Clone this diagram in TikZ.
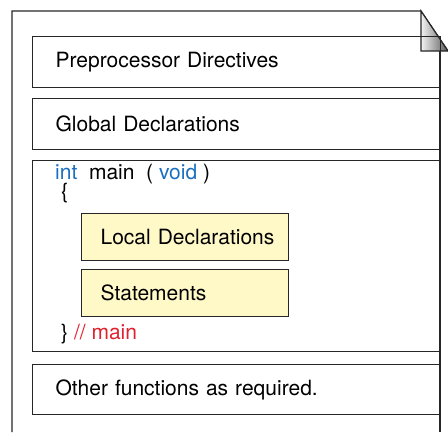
\documentclass[tikz,border=0pt]{standalone}
\usepackage{fontspec}
\setmainfont{TeX Gyre Heros}
\usepackage{xcolor}
\usetikzlibrary{positioning}
\definecolor{kwblue}{HTML}{1A6FC0}
\definecolor{cmtred}{HTML}{E0212E}
\definecolor{localfill}{HTML}{FFF9C8}
\definecolor{lineclr}{HTML}{262626}

\begin{document}
\begin{tikzpicture}[x=1pt, y=-1pt,
  part/.style={draw=lineclr, line width=1.2pt, anchor=north west,
               minimum width=408pt, minimum height=51pt,
               inner xsep=23pt, text width=362pt, align=left,
               font=\fontsize{21}{25}\selectfont},
  local/.style={draw=lineclr, line width=1.2pt, fill=localfill, anchor=north west,
                minimum width=207pt, minimum height=47pt,
                inner xsep=19pt, text width=169pt, align=left,
                font=\fontsize{21}{25}\selectfont},
  code/.style={anchor=west, inner sep=0pt, font=\fontsize{21}{25}\selectfont},
  pageline/.style={draw=lineclr, line width=1.2pt}
]
  \useasboundingbox (0,0) rectangle (448,432);

  % the page with its folded corner
  \draw[pageline] (12,432) -- (12,11) -- (421,11) -- (448,51);
  \draw[pageline] (440,51) -- (440,432);
  \path[pageline, left color=black!5, right color=black!65]
    (421,11) -- (448,51) -- (421,51) -- cycle;

  % program sections
  \node[part] (pre)   at (32,36)  {Preprocessor Directives};
  \node[part] (glob)  at (32,98)  {Global Declarations};
  \node[part, minimum height=191pt] (main) at (32,160) {};
  \node[part, minimum height=50pt] (other) at (32,364) {Other functions as required.};

  % body of main
  \node[code] (head)  at (55,174) {\textcolor{kwblue}{int}\ \ main\ \ ( \textcolor{kwblue}{void} )};
  \node[code] (open)  at (61,193) {\{};
  \node[local] (decl) at (81,213) {\mbox{Local Declarations}};
  \node[local] (stmt) at (81,269) {Statements};
  \node[code] (close) at (61,334) {\}\ \textcolor{cmtred}{// main}};
\end{tikzpicture}
\end{document}
